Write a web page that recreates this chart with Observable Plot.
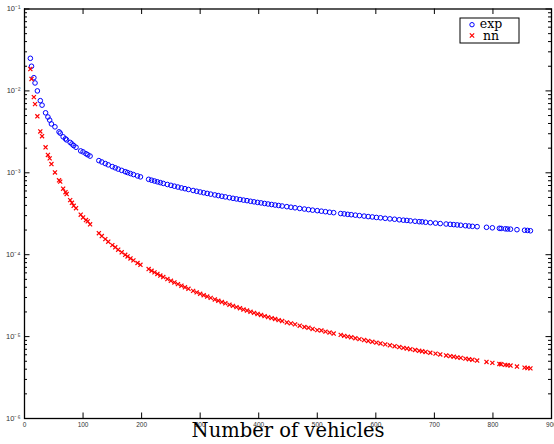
<!DOCTYPE html>
<html><head><meta charset="utf-8">
<script src="https://cdn.jsdelivr.net/npm/d3@7"></script>
<script src="https://cdn.jsdelivr.net/npm/@observablehq/plot@0.6"></script>
<style>body{margin:0;background:#fff} #chart{width:554px;height:444px}</style>
</head><body><div id="chart"></div>
<script>
const vehicles = [10,12,16,18,22,27,30,36,40,43,46,52,59,61,66,70,72,78,81,84,88,96,100,105,108,112,
127,132,138,143,150,155,160,166,172,176,181,186,193,198,212,217,222,227,232,237,244,250,256,262,268,274,280,288,294,300,
306,312,318,325,331,337,343,350,356,362,368,374,380,386,392,398,404,410,416,422,428,434,440,448,455,462,470,478,485,492,500,
507,514,521,528,540,546,552,558,565,572,580,587,594,601,608,616,624,632,640,647,653,659,667,674,679,685,693,702,710,720,727,
733,739,745,753,759,765,773,789,799,811,814,821,825,830,841,854,859,864];
const expError = [2.5e-2,2.0e-2,1.45e-2,1.25e-2,1.0e-2,7.6e-3,6.7e-3,5.4e-3,4.8e-3,4.4e-3,3.95e-3,3.64e-3,3.16e-3,3.05e-3,2.75e-3,2.6e-3,2.52e-3,2.35e-3,2.25e-3,2.15e-3,2.05e-3,1.85e-3,1.8e-3,1.71e-3,1.66e-3,1.6e-3,
1.409e-3,1.356e-3,1.297e-3,1.25e-3,1.19e-3,1.15e-3,1.11e-3,1.07e-3,1.032e-3,1.007e-3,9.79e-4,9.52e-4,9.16e-4,8.92e-4,8.32e-4,8.12e-4,7.94e-4,7.76e-4,7.59e-4,7.42e-4,7.2e-4,7.03e-4,6.86e-4,6.7e-4,6.54e-4,6.4e-4,6.26e-4,6.08e-4,5.95e-4,5.83e-4,
5.71e-4,5.6e-4,5.49e-4,5.37e-4,5.27e-4,5.17e-4,5.08e-4,4.97e-4,4.88e-4,4.8e-4,4.72e-4,4.64e-4,4.57e-4,4.49e-4,4.42e-4,4.35e-4,4.29e-4,4.22e-4,4.16e-4,4.1e-4,4.04e-4,3.99e-4,3.93e-4,3.86e-4,3.8e-4,3.74e-4,3.67e-4,3.61e-4,3.55e-4,3.5e-4,3.45e-4,
3.4e-4,3.35e-4,3.3e-4,3.26e-4,3.18e-4,3.15e-4,3.11e-4,3.08e-4,3.04e-4,3.0e-4,2.96e-4,2.92e-4,2.89e-4,2.85e-4,2.82e-4,2.78e-4,2.74e-4,2.71e-4,2.67e-4,2.64e-4,2.62e-4,2.59e-4,2.56e-4,2.53e-4,2.52e-4,2.49e-4,2.46e-4,2.43e-4,2.4e-4,2.37e-4,2.35e-4,
2.33e-4,2.31e-4,2.29e-4,2.26e-4,2.24e-4,2.22e-4,2.2e-4,2.16e-4,2.13e-4,2.1e-4,2.09e-4,2.07e-4,2.06e-4,2.05e-4,2.02e-4,1.99e-4,1.98e-4,1.96e-4];
const nnError = [1.85e-2,1.4e-2,8.4e-3,6.9e-3,4.9e-3,3.2e-3,2.8e-3,2.05e-3,1.65e-3,1.5e-3,1.28e-3,1.01e-3,8.1e-4,7.8e-4,6.4e-4,5.8e-4,5.5e-4,4.64e-4,4.3e-4,3.95e-4,3.7e-4,3.08e-4,2.85e-4,2.65e-4,2.55e-4,2.35e-4,
1.83e-4,1.69e-4,1.55e-4,1.44e-4,1.31e-4,1.23e-4,1.15e-4,1.07e-4,9.97e-5,9.52e-5,9.0e-5,8.53e-5,7.92e-5,7.52e-5,6.68e-5,6.37e-5,6.09e-5,5.82e-5,5.57e-5,5.34e-5,5.04e-5,4.8e-5,4.58e-5,4.37e-5,4.18e-5,4.0e-5,3.83e-5,3.62e-5,3.47e-5,3.33e-5,
3.2e-5,3.08e-5,2.97e-5,2.84e-5,2.74e-5,2.64e-5,2.55e-5,2.45e-5,2.37e-5,2.29e-5,2.22e-5,2.14e-5,2.08e-5,2.01e-5,1.95e-5,1.89e-5,1.84e-5,1.78e-5,1.73e-5,1.68e-5,1.64e-5,1.59e-5,1.55e-5,1.49e-5,1.45e-5,1.41e-5,1.36e-5,1.31e-5,1.28e-5,1.24e-5,1.2e-5,
1.19e-5,1.15e-5,1.12e-5,1.09e-5,1.05e-5,1.02e-5,1.0e-5,9.8e-6,9.55e-6,9.32e-6,9.07e-6,8.85e-6,8.64e-6,8.44e-6,8.25e-6,8.04e-6,7.83e-6,7.64e-6,7.45e-6,7.29e-6,7.15e-6,7.02e-6,6.86e-6,6.71e-6,6.62e-6,6.5e-6,6.35e-6,6.19e-6,6.05e-6,5.88e-6,5.77e-6,
5.68e-6,5.58e-6,5.5e-6,5.38e-6,5.29e-6,5.21e-6,5.1e-6,4.9e-6,4.78e-6,4.64e-6,4.6e-6,4.52e-6,4.48e-6,4.43e-6,4.31e-6,4.18e-6,4.13e-6,4.09e-6];
const seriesNames = ["exp", "nn"];
const xTicks = [0,100,200,300,400,500,600,700,800,900];
const yTicks = [1e-1,1e-2,1e-3,1e-4,1e-5,1e-6];
const yTickLabels = ["10⁻¹","10⁻²","10⁻³","10⁻⁴","10⁻⁵","10⁻⁶"];
const xLabel = "Number of vehicles";

const W = 554, H = 444, mL = 24, mR = 3, mT = 8.5, mB = 26;
const fw = W - mL - mR, fh = H - mT - mB;
const minorY = [];
for (const d of yTicks.slice(1)) for (let k = 2; k <= 9; k++) minorY.push(k * d);

const expData = vehicles.map((v, i) => ({v, e: expError[i]}));
const nnData = vehicles.map((v, i) => ({v, e: nnError[i]}));
const majorLen = 5.5, minorLen = 3;

const chart = Plot.plot({
  width: W, height: H,
  marginLeft: mL, marginRight: mR, marginTop: mT, marginBottom: mB,
  style: {fontFamily: "'Liberation Sans', Arial, sans-serif", background: "white", overflow: "visible"},
  x: {domain: [0, 900], label: null},
  y: {type: "log", domain: [1e-6, 1e-1], label: null},
  marks: [
    Plot.tickY(yTicks, {y: d => d, insetRight: fw - majorLen, stroke: "black"}),
    Plot.tickY(yTicks, {y: d => d, insetLeft: fw - majorLen, stroke: "black"}),
    Plot.tickY(minorY, {y: d => d, insetRight: fw - minorLen, stroke: "black"}),
    Plot.tickY(minorY, {y: d => d, insetLeft: fw - minorLen, stroke: "black"}),
    Plot.tickX(xTicks, {x: d => d, insetTop: fh - majorLen, stroke: "black"}),
    Plot.tickX(xTicks, {x: d => d, insetBottom: fh - majorLen, stroke: "black"}),
    Plot.axisY({ticks: yTicks, tickSize: 0, tickPadding: 4, fontSize: 7.5, fill: "#333",
      tickFormat: d => yTickLabels[yTicks.indexOf(d)]}),
    Plot.axisX({ticks: xTicks, tickSize: 0, tickPadding: 4, fontSize: 6.5, fill: "#333",
      tickFormat: d => String(d)}),
    Plot.dot(expData, {x: "v", y: "e", symbol: "circle", r: 2.3, stroke: "#0000ff", strokeWidth: 1, fill: "none"}),
    Plot.dot(nnData, {x: "v", y: "e", symbol: "times", r: 2, stroke: "#ff0000", strokeWidth: 1.2}),
    Plot.frame({stroke: "black", strokeWidth: 1.3}),
    Plot.text([xLabel], {frameAnchor: "bottom", dy: 18, fontFamily: "'DejaVu Serif', serif", fontSize: 19.5, fill: "black"})
  ]
});
document.getElementById("chart").appendChild(chart);

// legend
const svg = d3.select(chart);
const lx = W - mR - 91, ly = mT + 9.5;
const g = svg.append("g");
g.append("rect").attr("x", lx).attr("y", ly).attr("width", 59).attr("height", 25)
  .attr("fill", "white").attr("stroke", "black").attr("stroke-width", 1);
g.append("circle").attr("cx", lx + 12).attr("cy", ly + 6.7).attr("r", 2.2)
  .attr("fill", "none").attr("stroke", "#0000ff").attr("stroke-width", 1);
g.append("path").attr("d", d3.symbol(d3.symbolTimes, 14)()).attr("transform", `translate(${lx + 12},${ly + 17.5})`)
  .attr("fill", "none").attr("stroke", "#ff0000").attr("stroke-width", 1.2);
g.selectAll("text.leg").data(seriesNames).join("text").attr("class", "leg")
  .attr("x", lx + 31).attr("y", (d, i) => ly + 10 + i * 11.5)
  .attr("font-family", "'DejaVu Serif', serif").attr("font-size", 12.5).attr("fill", "black")
  .text(d => d);
</script>
</body></html>
